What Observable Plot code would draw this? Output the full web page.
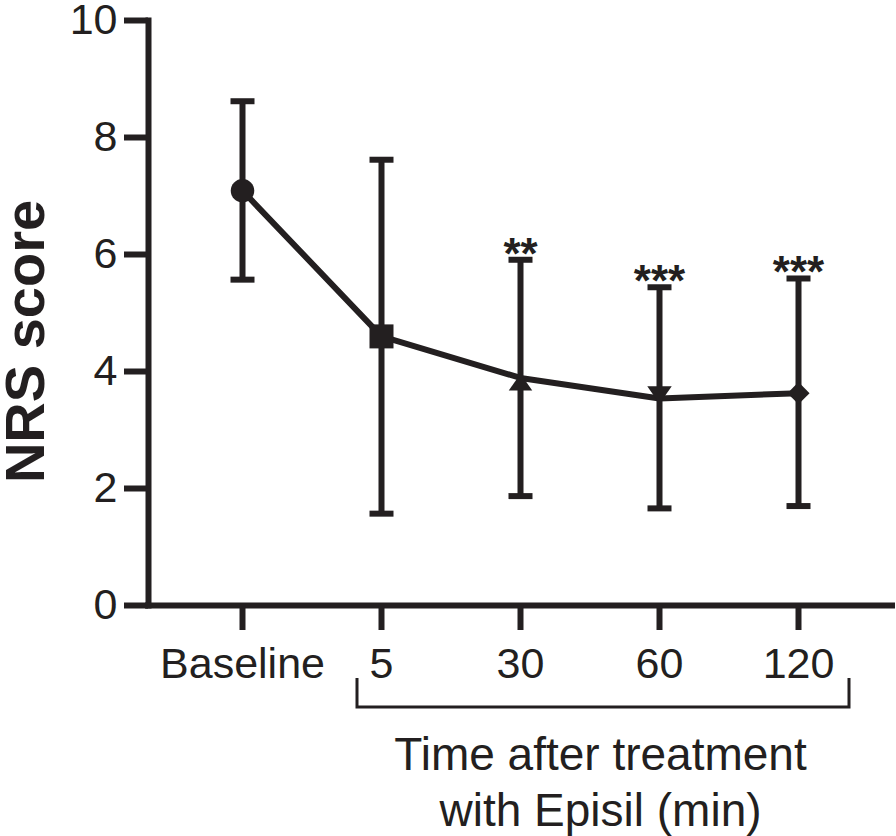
<!DOCTYPE html>
<html><head><meta charset="utf-8">
<script src="https://cdn.jsdelivr.net/npm/d3@7"></script>
<script src="https://cdn.jsdelivr.net/npm/@observablehq/plot@0.6"></script>
<style>body{margin:0;background:#fff;} #chart{width:896px;height:836px;}</style>
</head><body><div id="chart"></div>
<script>
const categories = ["Baseline", "5", "30", "60", "120"];
const means = [7.09, 4.6, 3.89, 3.54, 3.63];
const upper = [8.62, 7.62, 5.91, 5.44, 5.59];
const lower = [5.57, 1.57, 1.87, 1.66, 1.70];
const stars = ["", "", "**", "***", "***"];
const markers = ["circle", "square", "triangle-up", "triangle-down", "diamond"];
const yTicks = [0, 2, 4, 6, 8, 10];
const xTitle = "Time after treatment\nwith Episil (min)";
const yTitle = "NRS score";

const ink = "#231f20";
const R = s => Math.sqrt(s / Math.PI);
const shapes = {
  "circle": {draw(c, size) { const s = R(size) * 0.98; c.moveTo(s, 0); c.arc(0, 0, s, 0, 2 * Math.PI); c.closePath(); }},
  "square": {draw(c, size) { const s = R(size); c.rect(-s, -s, 2 * s, 2 * s); }},
  "triangle-up": {draw(c, size) { const s = R(size); c.moveTo(0, -0.34 * s); c.lineTo(0.98 * s, 1.04 * s); c.lineTo(-0.98 * s, 1.04 * s); c.closePath(); }},
  "triangle-down": {draw(c, size) { const s = R(size); c.moveTo(0, 0.44 * s); c.lineTo(1.02 * s, -1.02 * s); c.lineTo(-1.02 * s, -1.02 * s); c.closePath(); }},
  "diamond": {draw(c, size) { const s = R(size) * 0.92; c.moveTo(0, -s); c.lineTo(s, 0); c.lineTo(0, s); c.lineTo(-s, 0); c.closePath(); }}
};
const capShape = {draw(c, size) { const s = R(size); c.rect(-s, -s / 4, 2 * s, s / 2); }};

const data = categories.map((cat, i) => ({
  cat, mean: means[i], hi: upper[i], lo: lower[i], star: stars[i], marker: markers[i]
}));

const plot = Plot.plot({
  width: 896,
  height: 836,
  marginLeft: 148,
  marginRight: 4,
  marginTop: 20,
  marginBottom: 231,
  style: {fontFamily: "'Liberation Sans', Arial, Helvetica, sans-serif", color: ink, background: "#fff", overflow: "visible"},
  x: {type: "point", domain: categories, padding: 0.67},
  y: {domain: [0, 10]},
  marks: [
    Plot.frame({anchor: "left", stroke: ink, strokeWidth: 6, strokeLinecap: "square"}),
    Plot.ruleY([0], {stroke: ink, strokeWidth: 6, strokeLinecap: "square"}),
    Plot.axisY({ticks: yTicks, tickSize: 24, tickPadding: 7, fontSize: 43, strokeWidth: 6, label: null, fill: ink, stroke: ink}),
    Plot.axisX({tickSize: 25, tickPadding: 17, fontSize: 43, strokeWidth: 6, label: null, fill: ink, stroke: ink}),
    Plot.line(data, {x: "cat", y: "mean", stroke: ink, strokeWidth: 6}),
    Plot.ruleX(data, {x: "cat", y1: "lo", y2: "hi", stroke: ink, strokeWidth: 6}),
    Plot.dot(data, {x: "cat", y: "hi", symbol: capShape, r: 12, fill: ink, stroke: "none"}),
    Plot.dot(data, {x: "cat", y: "lo", symbol: capShape, r: 12, fill: ink, stroke: "none"}),
    Plot.dot(data, {x: "cat", y: "mean", symbol: d => shapes[d.marker], r: 12, fill: ink, stroke: "none"}),
    Plot.text(data.filter(d => d.star), {x: "cat", y: "hi", text: "star", lineAnchor: "bottom", dy: 9, fontSize: 44, fontWeight: "bold", fill: ink}),
    Plot.text([yTitle], {frameAnchor: "left", rotate: -90, dx: -105, dy: 28.5, textAnchor: "middle", lineAnchor: "bottom", fontSize: 56, fontWeight: "bold", fill: ink}),
    Plot.text([xTitle], {frameAnchor: "bottom", dx: 80, dy: 220, textAnchor: "middle", lineAnchor: "bottom", lineHeight: 1.196, fontSize: 46, fill: ink})
  ]
});

// bracket grouping the post-treatment time points, positioned from the plot's own scales
const X = plot.scale("x"), Y = plot.scale("y");
const x1 = X.apply(categories[1]) - 24;
const x2 = X.apply(categories[categories.length - 1]) + 51;
const yb = Y.apply(0);
d3.select(plot).append("path")
  .attr("d", `M${x1},${yb + 73}V${yb + 102}H${x2}V${yb + 73}`)
  .attr("fill", "none").attr("stroke", ink).attr("stroke-width", 3);

document.getElementById("chart").appendChild(plot);
</script>
</body></html>
